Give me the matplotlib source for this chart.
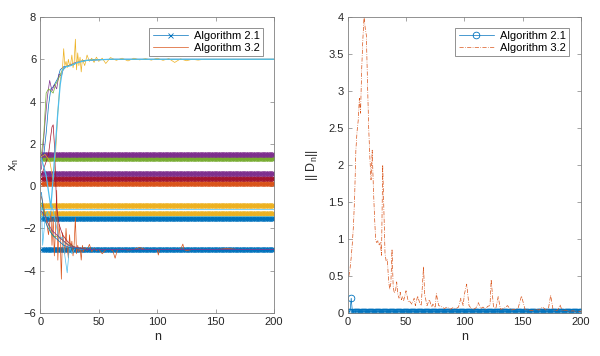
import numpy as np
import matplotlib
matplotlib.use("Agg")
import matplotlib.pyplot as plt
from matplotlib.ticker import FuncFormatter

plt.rcParams['font.family'] = ['Liberation Sans', 'DejaVu Sans']
plt.rcParams['mathtext.fontset'] = 'custom'
plt.rcParams['mathtext.rm'] = 'Liberation Sans'
plt.rcParams['mathtext.it'] = 'Liberation Sans:italic'

# MATLAB colour order
C_BLUE, C_ORANGE, C_YELLOW, C_PURPLE, C_GREEN, C_CYAN, C_RED = (
    '#0072BD', '#D95319', '#EDB120', '#7E2F8E', '#77AC30', '#4DBEEE', '#A2142F')

n_all = np.arange(1, 201)

# ---------------- left panel: components x_n ----------------
# Algorithm 2.1 : constant components (x markers)
alg21_levels = [-2.98, -1.51, -1.28, -0.91, 0.14, 0.40, 0.64, 1.32, 1.51]
alg21_colors = [C_BLUE, C_BLUE, C_YELLOW, C_YELLOW, C_ORANGE, C_RED, C_PURPLE, C_GREEN, C_PURPLE]
# thin lines visible between bands
thin_levels = [-1.10, -1.40]
thin_colors = [C_CYAN, C_CYAN]

# Algorithm 3.2 : trajectories (sparse iterates)
a_n = [1, 3, 5, 7, 9, 11, 13, 15, 17, 20, 25, 30, 35, 40, 50, 60, 200]
a_v = [1.3, 1.5, 2.5, 3.8, 4.6, 4.7, 4.9, 5.1, 5.5, 5.65, 5.7, 5.8, 5.92, 5.95, 5.98, 6.0, 6.0]
b_n = [1, 2, 4, 6, 8, 10, 12, 14, 16, 18, 20, 24, 30, 40, 60, 200]
b_v = [0.8, 1.6, 3.0, 4.2, 5.0, 4.5, 4.8, 4.6, 5.3, 5.2, 5.6, 5.7, 5.85, 5.95, 6.0, 6.0]
c_n = [1, 3, 5, 7, 9, 11, 13, 15, 18, 22, 28, 35, 45, 200]
c_v = [1.5, 2.5, 4.4, 4.6, 4.5, 4.4, 4.8, 5.0, 5.4, 5.65, 5.75, 5.9, 5.98, 6.0]
d_n = [1, 5, 9, 11, 13, 15, 17, 19, 22, 26, 32, 40, 60, 200]
d_v = [1.3, 0.5, -1.0, 0.4, 2.0, 3.5, 4.8, 5.5, 5.65, 5.7, 5.85, 5.95, 6.0, 6.0]
e_n = [1, 4, 8, 11, 13, 15, 17, 19, 20, 21, 22, 23, 24, 25, 26, 27, 28, 29, 30, 31, 32, 33,
       34, 35, 36, 38, 40, 42, 44, 46, 48, 50, 53, 56, 60, 65, 70, 75, 80, 85, 90, 95, 100,
       105, 110, 115, 120, 125, 130, 135, 140, 200]
e_v = [1.4, 1.5, 1.2, 0.3, 1.5, 3.5, 5.0, 5.6, 6.5, 5.7, 5.9, 5.6, 6.0, 5.7, 5.8, 6.2, 5.6,
       5.9, 6.95, 5.5, 6.3, 5.7, 6.1, 5.4, 6.0, 5.7, 6.2, 5.9, 6.05, 5.85, 6.1, 5.9, 6.05,
       5.8, 6.08, 5.95, 6.05, 5.92, 6.05, 5.97, 6.03, 5.96, 6.05, 5.95, 6.03, 5.85, 6.02,
       5.93, 6.0, 5.96, 6.0, 6.0]
f_n = [1, 4, 7, 9, 10, 11, 12, 13, 14, 16, 19, 23, 28, 34, 40, 200]
f_v = [0.5, 1.0, 1.5, 2.4, 2.8, 2.9, 2.0, 0.5, -1.0, -1.8, -2.3, -2.6, -2.85, -2.95, -3.0, -3.0]
g_n = [1, 3, 5, 7, 9, 10, 11, 12, 13, 14, 15, 16, 17, 18, 19, 20, 21, 22, 23, 24, 25, 26,
       27, 28, 29, 30, 31, 32, 33, 34, 35, 36, 37, 38, 40, 42, 44, 46, 48, 50, 53, 56, 60,
       62, 64, 66, 68, 70, 75, 80, 85, 90, 95, 100, 101, 102, 105, 110, 115, 120, 122, 123,
       125, 130, 140, 150, 160, 170, 175, 180, 190, 200]
g_v = [-0.5, -1.0, -1.6, -2.3, -1.2, -2.8, -1.5, -3.3, -2.0, -0.2, -3.5, -1.8, -2.4, -4.4,
       -2.2, -2.6, -3.2, -2.0, -2.9, -3.4, -2.3, -3.0, -2.6, -3.3, -2.7, -1.5, -3.2, -2.8,
       -3.1, -2.9, -3.5, -2.8, -3.1, -2.9, -3.05, -2.75, -3.1, -2.95, -3.05, -2.98, -3.2,
       -3.0, -3.0, -3.05, -3.41, -3.0, -3.0, -2.98, -3.02, -3.0, -2.9, -3.0, -3.0, -3.0,
       -3.26, -3.0, -3.0, -3.0, -3.0, -3.0, -2.74, -3.0, -3.05, -3.0, -3.0, -3.0, -2.95,
       -3.0, -3.0, -3.0, -3.0, -3.0]
h_n = [1, 3, 5, 8, 10, 12, 15, 18, 22, 26, 30, 35, 40, 50, 200]
h_v = [-0.8, -1.2, -1.5, -2.0, -2.3, -2.4, -2.35, -2.5, -2.7, -2.8, -2.9, -2.95, -3.0, -3.0, -3.0]
i_n = [1, 2, 4, 6, 8, 10, 13, 16, 19, 21, 23, 25, 27, 30, 35, 40, 50, 200]
i_v = [-1.0, -2.8, -1.6, -1.2, -1.5, -0.9, -1.7, -2.5, -2.4, -3.3, -4.1, -2.8, -3.2, -2.9, -3.0, -3.0, -3.0, -3.0]
j_n = [1, 3, 6, 9, 12, 16, 20, 25, 30, 40, 200]
j_v = [-0.3, -1.5, -1.9, -2.2, -2.4, -2.6, -2.8, -2.9, -2.95, -3.0, -3.0]
k_n = [1, 4, 7, 10, 14, 18, 24, 30, 40, 200]
k_v = [-1.2, -1.4, -1.8, -2.1, -2.3, -2.5, -2.8, -2.9, -3.0, -3.0]

alg32_series = [(g_n, g_v, C_ORANGE), (a_n, a_v, C_BLUE), (b_n, b_v, C_PURPLE),
                (c_n, c_v, C_GREEN), (f_n, f_v, C_RED),
                (h_n, h_v, C_GREEN), (i_n, i_v, C_CYAN), (j_n, j_v, C_BLUE),
                (k_n, k_v, C_PURPLE), (e_n, e_v, C_YELLOW), (d_n, d_v, C_CYAN)]

# ---------------- right panel: ||D_n|| ----------------
d21_level = 0.02
d21_spike_n = 3
d21_spike_v = 0.2

r_n = list(range(1, 49)) + [50, 52, 53, 55, 57, 58, 60, 62, 63, 65, 66, 68, 70, 72, 73, 75, 76, 78, 80,
       83, 85, 88, 90, 93, 95, 97, 99, 100, 102, 104, 106, 108, 110, 112, 114, 116, 118, 120,
       122, 123, 125, 127, 129, 131, 134, 137, 140, 143, 146, 149,
       152, 155, 158, 161, 164, 167, 170, 172, 174, 176, 178, 180, 182, 184, 187, 190, 193,
       196, 199, 200]
r_v = [0.5, 0.6, 0.75, 0.95, 1.2, 1.6, 2.2, 2.45, 2.6, 2.9,
       2.7, 3.3, 3.7, 4.0, 3.85, 3.75, 3.1, 2.5, 2.1, 1.8,
       2.2, 1.7, 1.3, 0.98, 0.95, 0.98, 0.92, 0.95, 0.78, 2.0,
       1.4, 0.8, 0.7, 0.72, 0.45, 0.32, 0.4, 0.86, 0.35, 0.27,
       0.3, 0.42, 0.25, 0.2, 0.28, 0.18, 0.22, 0.17,
       0.3, 0.15, 0.16, 0.12, 0.2, 0.1, 0.23, 0.12, 0.1, 0.62, 0.25, 0.1, 0.18, 0.08, 0.12,
       0.07, 0.26, 0.1, 0.09,
       0.06, 0.08, 0.05, 0.07, 0.06, 0.08, 0.2, 0.1, 0.25, 0.39, 0.1, 0.06, 0.05, 0.07, 0.14,
       0.06, 0.08, 0.05, 0.09, 0.1, 0.45, 0.08, 0.06, 0.22, 0.05, 0.06, 0.1, 0.04, 0.05, 0.06,
       0.23,
       0.05, 0.04, 0.03, 0.05, 0.04, 0.08, 0.04, 0.05, 0.24, 0.05, 0.03, 0.04, 0.11, 0.03,
       0.04, 0.02, 0.03, 0.02, 0.02, 0.02]

AX_COL = '#262626'

def style_axes(ax):
    for s in ax.spines.values():
        s.set_color('#808080')
        s.set_linewidth(0.6)
    ax.tick_params(direction='in', top=True, right=True, length=3, width=0.5,
                   colors='#808080', labelcolor=AX_COL, labelsize=8, pad=3)
    ax.set_xlim(0, 200)
    ax.set_xticks([0, 50, 100, 150, 200])
    ax.set_xlabel('n', fontsize=9, color=AX_COL, labelpad=3)

fig = plt.figure(figsize=(6.0, 3.56), dpi=100)
ax1 = fig.add_axes([0.0672, 0.1208, 0.3895, 0.8315])
ax2 = fig.add_axes([0.5795, 0.1208, 0.3888, 0.8315])

# left
h21 = None
for lev, col in zip(alg21_levels, alg21_colors):
    ln, = ax1.plot(n_all, np.full(n_all.shape, lev), '-', color=col, marker='x',
                   markersize=3.6, markeredgewidth=0.6, linewidth=0.5)
    if h21 is None:
        h21 = ln
for lev, col in zip(thin_levels, thin_colors):
    ax1.plot([1, 200], [lev, lev], '-', color=col, linewidth=0.5)
h32 = None
for idx, (xs, ys, col) in enumerate(alg32_series):
    lw = 0.9 if idx == len(alg32_series) - 1 else 0.5
    ln, = ax1.plot(xs, ys, '-', color=col, linewidth=lw)
    if h32 is None:
        h32 = ln
ax1.set_ylim(-6, 8)
ax1.set_yticks(range(-6, 9, 2))
style_axes(ax1)
ax1.set_ylabel(r'x$_{\rm n}$', fontsize=9, color=AX_COL, labelpad=2)
leg1 = ax1.legend([h21, h32], ['Algorithm 2.1', 'Algorithm 3.2'], loc='upper right',
                  bbox_to_anchor=(0.953, 0.963), borderaxespad=0, fontsize=8,
                  fancybox=False, framealpha=1, edgecolor='#808080', handlelength=3.2,
                  handletextpad=0.5, borderpad=0.3, labelspacing=0.15)
leg1.get_frame().set_linewidth(0.6)

# right
d21_vals = np.full(n_all.shape, d21_level)
d21_vals[d21_spike_n - 1] = d21_spike_v
hb, = ax2.plot(n_all, d21_vals, '-', color=C_BLUE, marker='o', markerfacecolor='none',
               markersize=4.8, markeredgewidth=0.6, linewidth=0.5)
ho, = ax2.plot(r_n, r_v, color=C_ORANGE, linewidth=0.5, linestyle=(0, (6, 2, 1, 2)))
ax2.set_ylim(0, 4)
ax2.set_yticks(np.arange(0, 4.01, 0.5))
ax2.yaxis.set_major_formatter(FuncFormatter(lambda v, p: ('%g' % v)))
style_axes(ax2)
ax2.set_ylabel(r'|| D$_{\rm n}$||', fontsize=9, color=AX_COL, labelpad=6)
leg2 = ax2.legend([hb, ho], ['Algorithm 2.1', 'Algorithm 3.2'], loc='upper right',
                  bbox_to_anchor=(0.9486, 0.963), borderaxespad=0, fontsize=8,
                  fancybox=False, framealpha=1, edgecolor='#808080', handlelength=3.2,
                  handletextpad=0.5, borderpad=0.3, labelspacing=0.15)
leg2.get_frame().set_linewidth(0.6)

fig.savefig('out.png', dpi=100)
